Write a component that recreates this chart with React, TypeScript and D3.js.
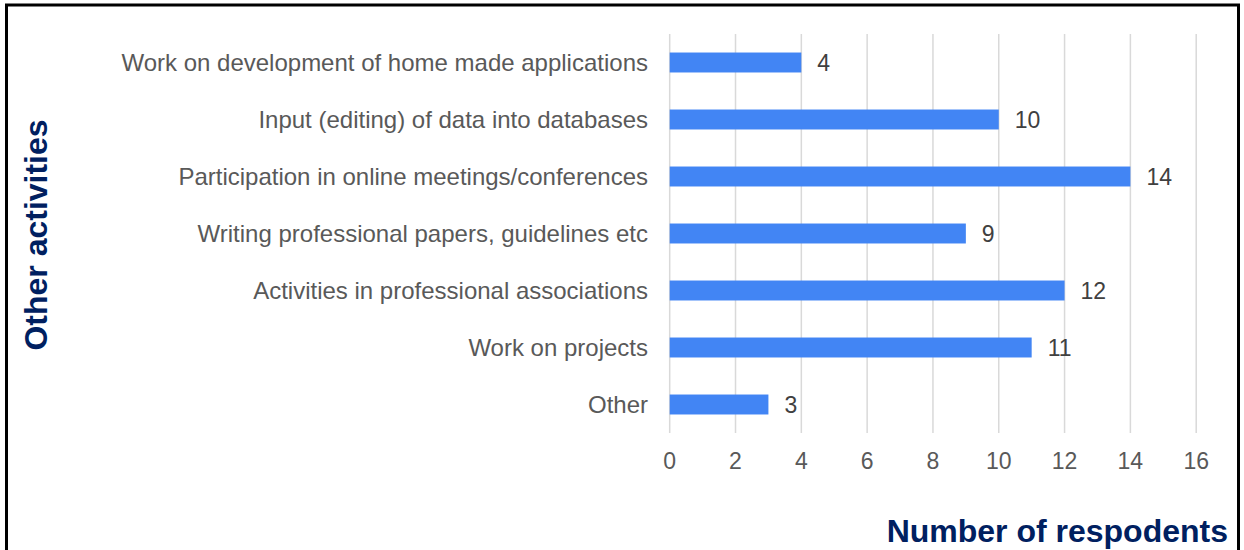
import React, { useEffect, useRef } from "react";
import * as d3 from "d3";

const categories = [
  "Work on development of home made applications",
  "Input (editing) of data into databases",
  "Participation in online meetings/conferences",
  "Writing professional papers, guidelines etc",
  "Activities in professional associations",
  "Work on projects",
  "Other",
];
const values = [4, 10, 14, 9, 12, 11, 3];
const xTicks = [0, 2, 4, 6, 8, 10, 12, 14, 16];
const yTitle = "Other activities";
const xTitle = "Number of respodents";

const W = 1244;
const H = 550;

export default function App() {
  const ref = useRef<SVGSVGElement>(null);
  useEffect(() => {
    const svg = d3.select(ref.current);
    svg.selectAll("*").remove();
    const font = "'Liberation Sans', Arial, sans-serif";

    svg.append("rect").attr("x", 0).attr("y", 0).attr("width", W).attr("height", H).attr("fill", "#fff");
    svg.append("rect")
      .attr("x", 6.5).attr("y", 5).attr("width", 1232).attr("height", 600)
      .attr("fill", "none").attr("stroke", "#000").attr("stroke-width", 3);

    const x = d3.scaleLinear().domain([0, 16]).range([669.7, 1196.2]);
    const y = d3.scaleBand<string>().domain(categories).range([34, 433]).paddingInner(0.65).paddingOuter(0.325);

    const g = svg.append("g");
    g.selectAll("line.grid").data(xTicks).enter().append("line")
      .attr("x1", (d) => x(d)).attr("x2", (d) => x(d))
      .attr("y1", 34).attr("y2", 433)
      .attr("stroke", "#d9d9d9").attr("stroke-width", 1.5);

    g.selectAll("rect.bar").data(values).enter().append("rect")
      .attr("x", x(0)).attr("y", (_, i) => y(categories[i])!)
      .attr("width", (d) => x(d) - x(0)).attr("height", y.bandwidth())
      .attr("fill", "#4285f4");

    g.selectAll("text.val").data(values).enter().append("text")
      .attr("x", (d) => x(d) + 16).attr("y", (_, i) => y(categories[i])! + y.bandwidth() / 2)
      .attr("dy", "0.36em").attr("font-family", font).attr("font-size", 23).attr("fill", "#404040")
      .text((d) => String(d));

    g.selectAll("text.cat").data(categories).enter().append("text")
      .attr("x", 648).attr("y", (d) => y(d)! + y.bandwidth() / 2)
      .attr("dy", "0.36em").attr("text-anchor", "end")
      .attr("font-family", font).attr("font-size", 24).attr("fill", "#595959")
      .text((d) => d);

    g.selectAll("text.tick").data(xTicks).enter().append("text")
      .attr("x", (d) => x(d)).attr("y", 461).attr("dy", "0.36em").attr("text-anchor", "middle")
      .attr("font-family", font).attr("font-size", 23).attr("fill", "#595959")
      .text((d) => String(d));

    svg.append("text")
      .attr("transform", "translate(47,235) rotate(-90)")
      .attr("text-anchor", "middle")
      .attr("font-family", font).attr("font-size", 32).attr("font-weight", "bold").attr("fill", "#002060")
      .text(yTitle);

    svg.append("text")
      .attr("x", 1228).attr("y", 542).attr("text-anchor", "end")
      .attr("font-family", font).attr("font-size", 32).attr("font-weight", "bold").attr("fill", "#002060")
      .text(xTitle);
  }, []);
  return (
    <svg ref={ref} width={W} height={H} style={{ position: "absolute", left: 0, top: 0, display: "block" }} />
  );
}
